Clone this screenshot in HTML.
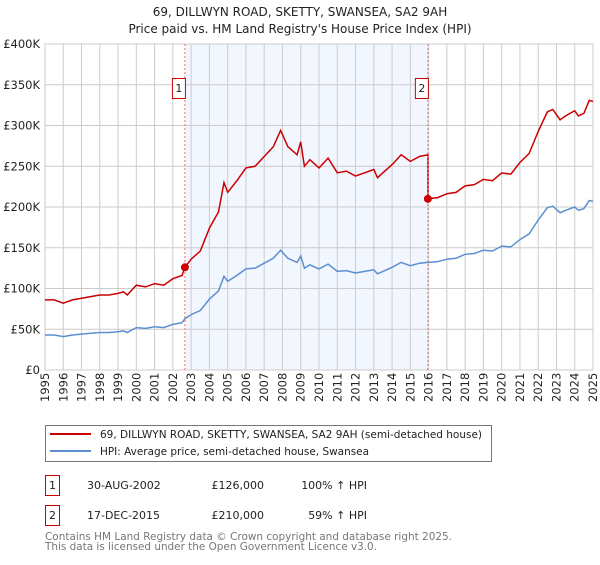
<!DOCTYPE html>
<html><head><meta charset="utf-8"><style>
body{margin:0;background:#fff;}
svg text{font-family:"DejaVu Sans","Liberation Sans",sans-serif;}
</style></head><body>
<svg id="chart" width="600" height="560" viewBox="0 0 600 560" xmlns="http://www.w3.org/2000/svg">
<text x="300" y="16" text-anchor="middle" font-size="12" fill="#222">69, DILLWYN ROAD, SKETTY, SWANSEA, SA2 9AH</text>
<text x="300" y="33" text-anchor="middle" font-size="12" fill="#222">Price paid vs. HM Land Registry's House Price Index (HPI)</text>
<g id="plot"></g>
<g>
<rect x="45.5" y="425.5" width="446" height="36" fill="#fff" stroke="#777"/>
<line x1="50" y1="434" x2="91" y2="434" stroke="#cc0000" stroke-width="2"/>
<text x="100" y="438" font-size="10.9" fill="#222" textLength="382" lengthAdjust="spacingAndGlyphs">69, DILLWYN ROAD, SKETTY, SWANSEA, SA2 9AH (semi-detached house)</text>
<line x1="50" y1="451" x2="91" y2="451" stroke="#5b8fd0" stroke-width="2"/>
<text x="100" y="455" font-size="10.9" fill="#222" textLength="269" lengthAdjust="spacingAndGlyphs">HPI: Average price, semi-detached house, Swansea</text>
</g>
<g font-size="11" fill="#222">
<rect x="45.5" y="475.5" width="14" height="20" fill="#fff" stroke="#cc0000"/>
<text x="52.5" y="489" text-anchor="middle">1</text>
<text x="87" y="489">30-AUG-2002</text>
<text x="264" y="489" text-anchor="end">£126,000</text>
<text x="367" y="489" text-anchor="end">100% ↑ HPI</text>
<rect x="45.5" y="505.5" width="14" height="20" fill="#fff" stroke="#cc0000"/>
<text x="52.5" y="519" text-anchor="middle">2</text>
<text x="87" y="519">17-DEC-2015</text>
<text x="264" y="519" text-anchor="end">£210,000</text>
<text x="367" y="519" text-anchor="end">59% ↑ HPI</text>
</g>
<text x="45" y="540" font-size="10.5" fill="#777" textLength="407" lengthAdjust="spacingAndGlyphs">Contains HM Land Registry data © Crown copyright and database right 2025.</text>
<text x="45" y="550" font-size="10.5" fill="#777" textLength="332" lengthAdjust="spacingAndGlyphs">This data is licensed under the Open Government Licence v3.0.</text>
</svg>
<script>
const hpiYears=[1995,1995.5,1996,1996.5,1997,1997.5,1998,1998.5,1999,1999.3,1999.5,2000,2000.5,2001,2001.5,2002,2002.5,2002.66,2003,2003.5,2004,2004.5,2004.8,2005,2005.5,2006,2006.5,2007,2007.5,2007.9,2008.3,2008.8,2009,2009.2,2009.5,2010,2010.5,2011,2011.5,2012,2012.5,2013,2013.2,2013.5,2014,2014.5,2015,2015.5,2015.96,2016.5,2017,2017.5,2018,2018.5,2019,2019.5,2020,2020.5,2021,2021.5,2022,2022.5,2022.8,2023.2,2023.5,2024,2024.2,2024.5,2024.8,2025];
const hpiValues=[43,43,41,43,44,45,46,46,47,48,46,52,51,53,52,56,58,63,68,73,87,97,115,109,116,124,125,131,137,147,137,132,140,125,129,124,130,121,122,119,121,123,118,121,126,132,128,131,132,133,136,137,142,143,147,146,152,151,160,167,184,199,201,193,196,200,196,198,208,207];
const saleYears=[2002.66,2015.96];
const salePrices=[126,210];
const yTicks=[0,50,100,150,200,250,300,350,400];
const yTickLabels=["£0","£50K","£100K","£150K","£200K","£250K","£300K","£350K","£400K"];
const xTickYears=[1995,1996,1997,1998,1999,2000,2001,2002,2003,2004,2005,2006,2007,2008,2009,2010,2011,2012,2013,2014,2015,2016,2017,2018,2019,2020,2021,2022,2023,2024,2025];

const X0=45,X1=593,Y0=370,Y1=44;
const xs=t=>X0+(t-1995)/30*(X1-X0);
const ys=v=>Y0-v/400*(Y0-Y1);
const NS="http://www.w3.org/2000/svg";
const plot=document.getElementById('plot');
function mk(tag,attrs,parent){const e=document.createElementNS(NS,tag);for(const k in attrs)e.setAttribute(k,attrs[k]);(parent||plot).appendChild(e);return e;}
function hpiAt(t){for(let i=0;i<hpiYears.length-1;i++){if(t>=hpiYears[i]&&t<=hpiYears[i+1]){const f=(t-hpiYears[i])/(hpiYears[i+1]-hpiYears[i]);return hpiValues[i]+f*(hpiValues[i+1]-hpiValues[i]);}}return hpiValues[hpiValues.length-1];}

const shade=mk('rect',{x:xs(saleYears[0]),y:Y1,width:xs(saleYears[1])-xs(saleYears[0]),height:Y0-Y1,fill:'#eef3fd',opacity:'0.75'});


xTickYears.forEach(yr=>{
  const g=mk('line',{x1:xs(yr),x2:xs(yr),y1:Y1,y2:Y0,stroke:'#cccccc','stroke-width':1});
  
  
  const t=mk('text',{transform:`translate(${xs(yr)+4},${Y0+32}) rotate(-90)`,'font-size':'11.5',fill:'#222'});
  
  
  t.textContent=yr;
});
yTicks.forEach((v,i)=>{
  const g=mk('line',{x1:X0,x2:X1,y1:ys(v),y2:ys(v),stroke:'#cccccc','stroke-width':1});
  
  
  const t=mk('text',{x:40,y:ys(v)+4,'text-anchor':'end','font-size':'11.5',fill:'#222'});
  
  
  t.textContent=yTickLabels[i];
});
const frame=mk('rect',{x:X0,y:Y1,width:X1-X0,height:Y0-Y1,fill:'none',stroke:'#cccccc'});



let d='';hpiYears.forEach((t,i)=>{d+=(i?'L':'M')+xs(t).toFixed(1)+','+ys(hpiValues[i]).toFixed(1);});
const hl=mk('path',{d:d,fill:'none',stroke:'#5b8fd0','stroke-width':1.5});



const f1=salePrices[0]/hpiAt(saleYears[0]),f2=salePrices[1]/hpiAt(saleYears[1]);
let pd='';
hpiYears.forEach((t,i)=>{
  if(t<saleYears[1]){pd+=(pd?'L':'M')+xs(t).toFixed(1)+','+ys(hpiValues[i]*f1).toFixed(1);}
});
pd+='L'+xs(saleYears[1]).toFixed(1)+','+ys(hpiAt(saleYears[1])*f1).toFixed(1);
hpiYears.forEach((t,i)=>{
  if(t>=saleYears[1]){pd+='L'+xs(t).toFixed(1)+','+ys(hpiValues[i]*f2).toFixed(1);}
});
const pl=mk('path',{d:pd,fill:'none',stroke:'#cc0000','stroke-width':1.5});



saleYears.forEach((t,i)=>{
  const v=mk('line',{x1:xs(t),x2:xs(t),y1:Y1,y2:Y0,stroke:'#ff6666','stroke-width':1,'stroke-dasharray':'2,2'});
  
  
  const c=mk('circle',{cx:xs(t),cy:ys(salePrices[i]),r:4,fill:'#cc0000'});
  
  
  const b=mk('rect',{x:xs(t)-12.5,y:78.5,width:13,height:20,fill:'#fff',stroke:'#cc0000'});
  
  
  const tx=mk('text',{x:xs(t)-6,y:92,'text-anchor':'middle','font-size':'11',fill:'#222'});
  
  
  tx.textContent=String(i+1);
});
</script>
</body></html>
